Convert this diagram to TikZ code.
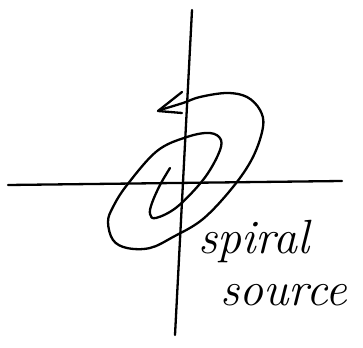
\documentclass[tikz,border=0pt]{standalone}
\begin{document}
\begin{tikzpicture}[x=1pt,y=-1pt,
  pen/.style={line width=2.3pt,line cap=round,line join=round,black},
  hand/.style={font=\fontsize{48}{48}\selectfont\itshape,inner sep=0pt,anchor=base west}]
\useasboundingbox (0,0) rectangle (363,347);
% axes
\coordinate (vt) at (192,10);
\coordinate (vb) at (175,335);
\coordinate (hl) at (8,185);
\coordinate (hr) at (342,181);
\draw[pen] (vt) -- (vb);
\draw[pen] (hl) -- (hr);
% spiral
\draw[pen] plot[smooth,tension=0.6] coordinates {
 (170,168) (160,185) (152,203) (150,214) (156,218) (177,207) (203,180)
 (218,155) (221,140) (210,133) (187,137) (157,151) (127,185) (113,207)
 (108,222) (113,240) (127,248) (150,248) (173,237) (203,219) (233,187)
 (253,157) (263,127) (260,110) (247,97) (227,93) (200,97) (183,103) (160,110)};
% arrowhead
\coordinate (tip) at (158,111);
\coordinate (a1) at (182,92);
\coordinate (a2) at (182,113);
\draw[pen] (a1) -- (tip) -- (a2);
% label
\node[hand] (l1) at (198,253) {spiral};
\node[hand] (l2) at (220,305) {source};
\end{tikzpicture}
\end{document}
